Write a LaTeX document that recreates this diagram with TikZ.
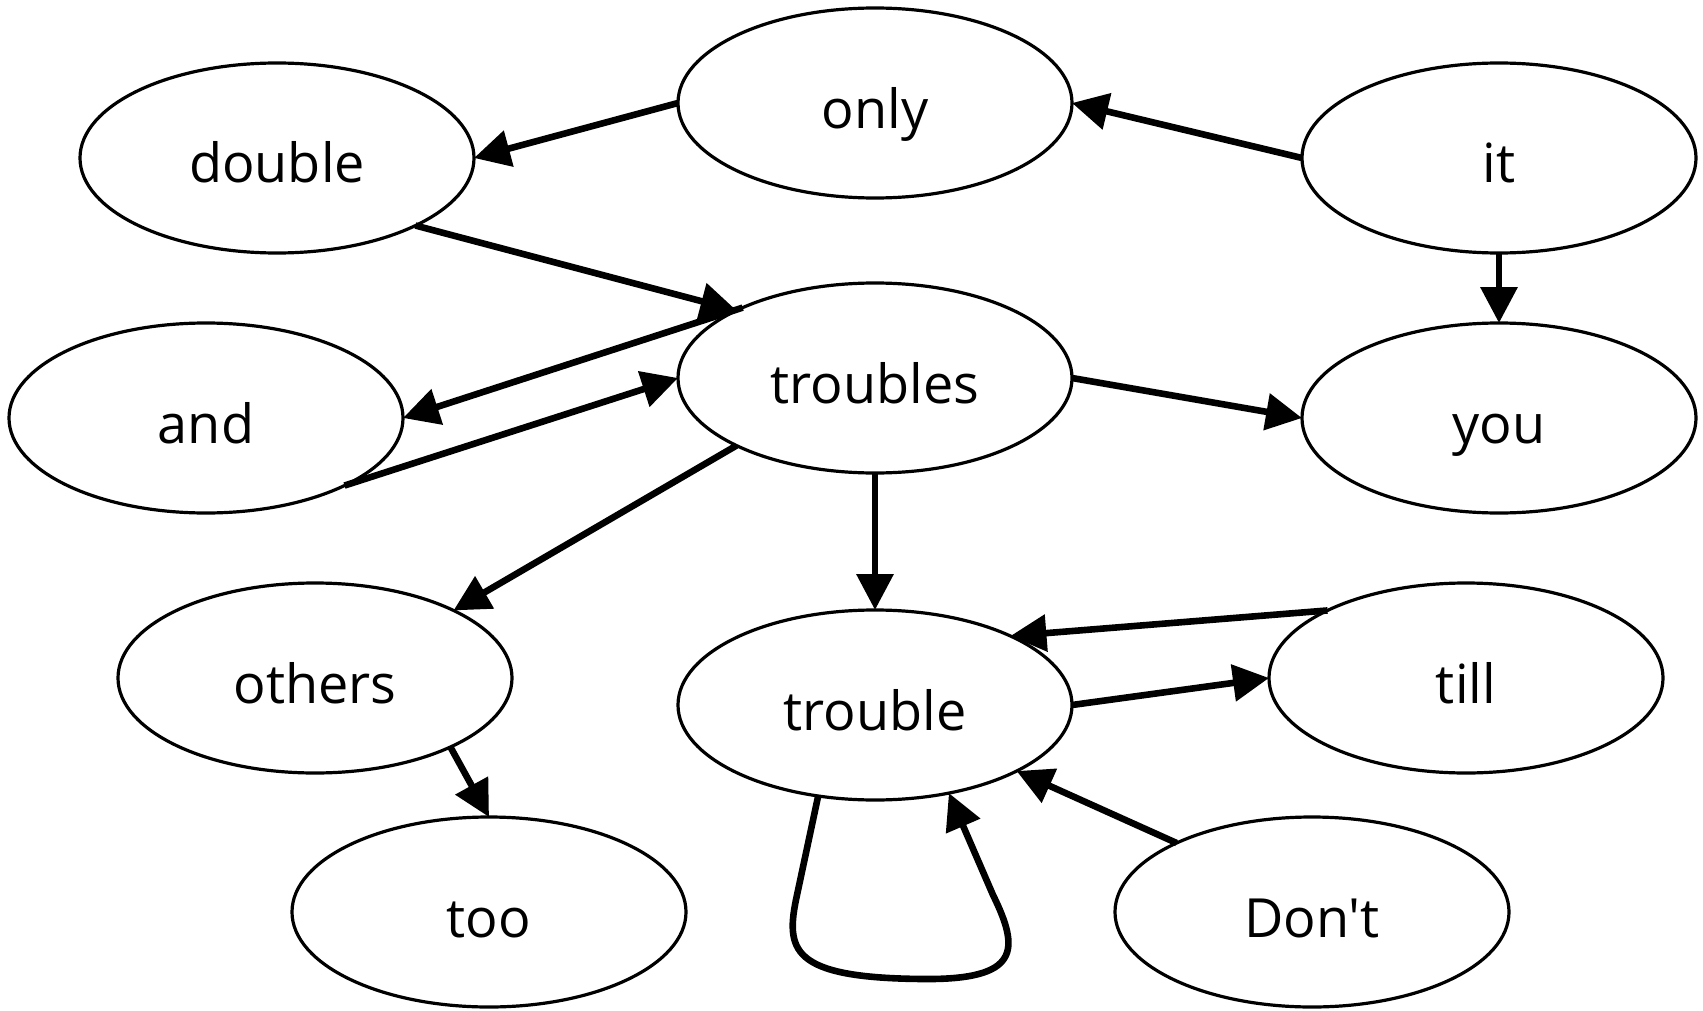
\documentclass[tikz,border=0pt]{standalone}
\usepackage{fontspec}
\setmainfont{Open Sans}[Ligatures=TeXOff]
\usetikzlibrary{shapes.geometric,arrows.meta}
\begin{document}
\begin{tikzpicture}[x=0.5pt,y=-0.5pt,
  word/.style={draw, ellipse, line width=1.6pt, inner sep=0pt, outer sep=0pt,
    minimum width=197pt, minimum height=95pt, text height=25pt, text depth=0pt,
    font=\fontsize{27}{30}\selectfont},
  link/.style={line width=3.3pt, line join=round, -{Triangle[length=18pt,width=18pt]}}]
\useasboundingbox (0,0) rectangle (1703,1011);

% word nodes
\node[word] (only)     at (875,103)  {only};
\node[word] (double)   at (277,158)  {double};
\node[word] (it)       at (1499,158) {it};
\node[word] (troubles) at (875,378)  {troubles};
\node[word] (and)      at (206,418)  {and};
\node[word] (you)      at (1499,418) {you};
\node[word] (others)   at (315,678)  {others};
\node[word] (trouble)  at (875,705)  {trouble};
\node[word] (till)     at (1466,678) {till};
\node[word] (too)      at (489,912)  {too};
\node[word] (dont)     at (1312,912) {Don't};

% connectors
\draw[link] (only.west) -- (double.east);
\draw[link] (it.west) -- (only.east);
\draw[link] (it.south) -- (you.north);
\draw[link] (double.-26) -- (troubles.154);
\draw[link] (troubles.152) -- (and.east);
\draw[link] (and.-26) -- (troubles.west);
\draw[link] (troubles.east) -- (you.west);
\draw[link] (troubles.206) -- (others.26);
\draw[link] (troubles.south) -- (trouble.north);
\draw[link] (till.154) -- (trouble.27);
\draw[link] (trouble.east) -- (till.west);
\draw[link] (dont.153) -- (trouble.-25);
\draw[link] (others.-27) -- (too.north);
% self loop below "trouble"
\draw[link] (trouble.-122) -- (797,895)
  .. controls (785,950) and (790,978) .. (923,979)
  .. controls (1020,980) and (1020,950) .. (993,895) -- (trouble.-50);
\end{tikzpicture}
\end{document}
